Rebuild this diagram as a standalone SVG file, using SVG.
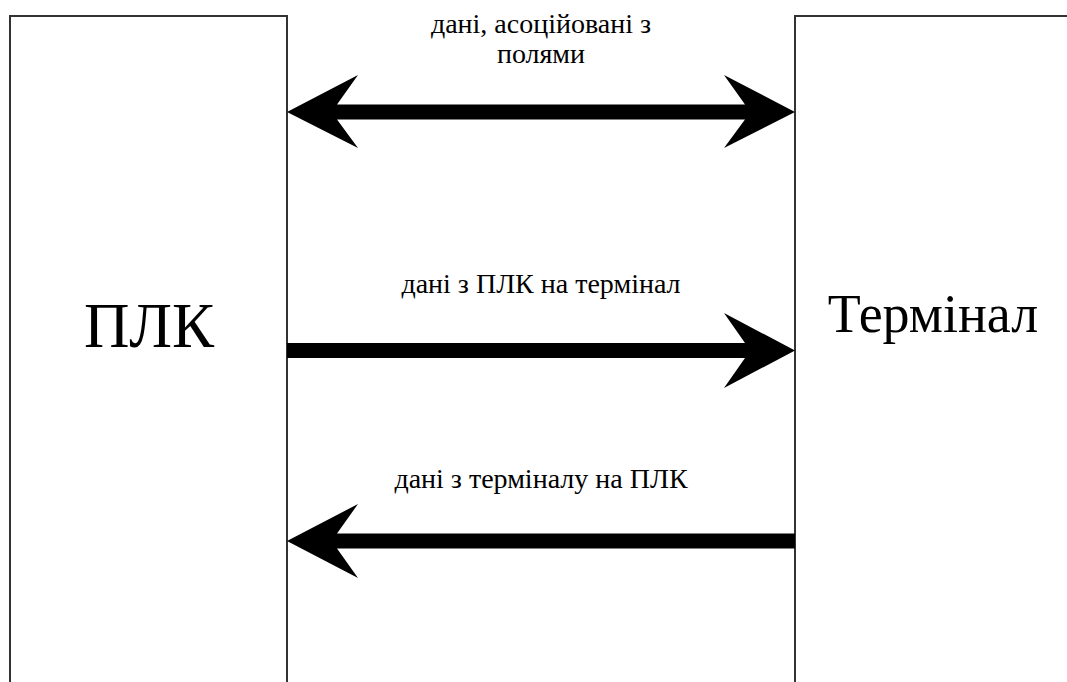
<svg xmlns="http://www.w3.org/2000/svg" width="1067" height="682" viewBox="0 0 1067 682">
  <defs>
    <!-- shared frame outline for both units -->
    <rect id="unit-frame" width="300" height="700" fill="#ffffff" stroke="#333333" stroke-width="2"/>
  </defs>
  <rect width="1067" height="682" fill="#ffffff"/>

  <g id="node-plc">
    <rect x="10" y="16" width="277" height="700" fill="#ffffff" stroke="#333333" stroke-width="2"/>
    <text x="149" y="347" font-family="Liberation Serif" font-size="63" text-anchor="middle" fill="#000000">ПЛК</text>
  </g>

  <g id="node-terminal">
    <use href="#unit-frame" x="795" y="16"/>
    <text x="933" y="332" font-family="Liberation Serif" font-size="54" text-anchor="middle" fill="#000000">Термінал</text>
  </g>

  <g id="connectors" fill="#000000" stroke="none">
    <!-- bidirectional: field-associated data -->
    <polygon points="287,112 358,75 337,104.5 745,104.5 724,75 795,112 724,148 745,119.5 337,119.5 358,148"/>
    <!-- PLC to terminal -->
    <polygon points="287,343 745,343 724,313 795,350.5 724,388 745,358 287,358"/>
    <!-- terminal to PLC -->
    <polygon points="795,533.5 337,533.5 358,504 287,541 358,578 337,548.5 795,548.5"/>
  </g>

  <g id="captions">
    <text x="541" y="33" font-family="Liberation Serif" font-size="28" text-anchor="middle" fill="#000000">дані, асоційовані з</text>
    <text x="541" y="63" font-family="Liberation Serif" font-size="28" text-anchor="middle" fill="#000000">полями</text>
    <text x="541" y="293" font-family="Liberation Serif" font-size="28" text-anchor="middle" fill="#000000">дані з ПЛК на термінал</text>
    <text x="541" y="488" font-family="Liberation Serif" font-size="28" text-anchor="middle" fill="#000000">дані з терміналу на ПЛК</text>
  </g>
</svg>
